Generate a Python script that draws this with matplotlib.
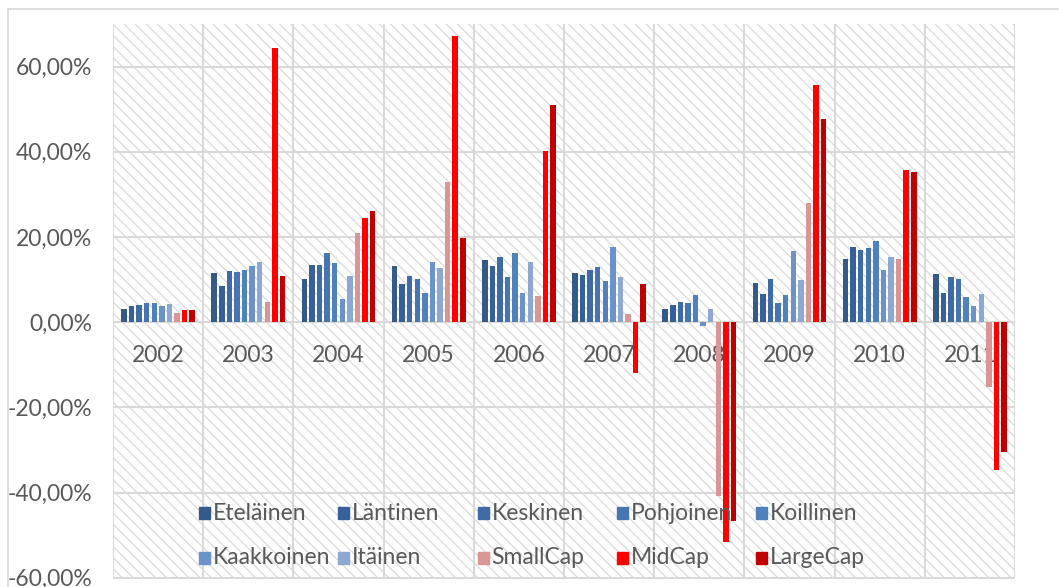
import matplotlib
matplotlib.use('Agg')
import matplotlib.pyplot as plt
from matplotlib.patches import Rectangle
from matplotlib.lines import Line2D
import numpy as np

years = ['2002', '2003', '2004', '2005', '2006', '2007', '2008', '2009', '2010', '2011']
series = ['Eteläinen', 'Läntinen', 'Keskinen', 'Pohjoinen', 'Koillinen',
          'Kaakkoinen', 'Itäinen', 'SmallCap', 'MidCap', 'LargeCap']

etelainen = [3.0, 11.6, 10.2, 13.1, 14.5, 11.5, 3.0, 9.1, 14.9, 11.3]
lantinen = [3.8, 8.6, 13.5, 9.0, 13.2, 11.0, 4.1, 6.6, 17.7, 6.9]
keskinen = [4.0, 11.9, 13.5, 10.8, 15.4, 12.2, 4.8, 10.1, 17.0, 10.7]
pohjoinen = [4.5, 11.7, 16.3, 10.2, 10.6, 12.9, 4.5, 4.5, 17.3, 10.1]
koillinen = [4.5, 12.2, 13.8, 6.8, 16.2, 9.7, 6.3, 6.3, 19.0, 6.0]
kaakkoinen = [3.8, 13.2, 5.5, 14.1, 6.8, 17.6, -0.8, 16.8, 12.3, 3.7]
itainen = [4.2, 14.1, 10.8, 12.7, 14.1, 10.6, 3.1, 9.8, 15.4, 6.7]
smallcap = [2.2, 4.7, 20.9, 32.9, 6.2, 2.0, -40.9, 27.9, 14.8, -15.2]
midcap = [2.8, 64.4, 24.4, 67.2, 40.1, -11.9, -51.7, 55.6, 35.8, -34.7]
largecap = [2.8, 10.8, 26.0, 19.7, 50.9, 9.0, -46.6, 47.8, 35.2, -30.5]

values = [etelainen, lantinen, keskinen, pohjoinen, koillinen,
          kaakkoinen, itainen, smallcap, midcap, largecap]
colors = ['#335A88', '#37609A', '#3E6BA6', '#4775B2', '#4F81BD',
          '#6B93C9', '#8DA8D3', '#DA9694', '#FF0000', '#C00000']

W, H = 1059, 587
FS = 16.5
fig = plt.figure(figsize=(W / 100, H / 100), dpi=100)
plt.rcParams['hatch.color'] = '#DADADA'
plt.rcParams['hatch.linewidth'] = 0.9

# outer chart frame
fig.add_artist(Line2D([8 / W, 8 / W], [0, 1 - 9 / H], color='#D9D9D9', lw=1.2))
fig.add_artist(Line2D([8 / W, 1.0], [1 - 9 / H, 1 - 9 / H], color='#D9D9D9', lw=1.2))

left, right, top, bottom = 113, 1015, 24, 579
ax = fig.add_axes([left / W, (H - bottom) / H, (right - left) / W, (bottom - top) / H])
ax.patch.set_facecolor('white')
ax.patch.set_edgecolor('#DADADA')
ax.patch.set_hatch('\\\\\\')
ax.patch.set_linewidth(0)

x = np.arange(len(years))
group = 0.84
slot = group / len(series)
for i, (name, vals, c) in enumerate(zip(series, values, colors)):
    ax.bar(x - group / 2 + slot * (i + 0.5), vals, width=slot * 0.72, color=c, label=name, zorder=3)

ax.set_xlim(-0.5, len(years) - 0.5)
ax.set_ylim(-60.3, 70)
ax.set_yticks([-60, -40, -20, 0, 20, 40, 60])
ax.set_yticklabels(['%d,00%%' % v for v in [-60, -40, -20, 0, 20, 40, 60]],
                   fontsize=FS, color='#595959', family='Lato')
ax.tick_params(axis='y', length=0, pad=15)
ax.set_xticks([])
for b in np.arange(-0.5, len(years), 1.0):
    ax.axvline(b, color='#D9D9D9', lw=1.5, zorder=1)
for t in [-60, -40, -20, 0, 20, 40, 60]:
    ax.axhline(t, color='#D9D9D9', lw=1.5, zorder=1)
for s in ax.spines.values():
    s.set_visible(False)

# year labels just below zero line
for xi, y in zip(x, years):
    ax.text(xi, -7.8, y, ha='center', va='center', fontsize=FS, color='#595959',
            family='Lato', zorder=2)

# legend in two rows of five
for i, (name, c) in enumerate(zip(series, colors)):
    row, col = divmod(i, 5)
    px = 199 + 139.3 * col
    py = 513 + 45 * row
    fig.add_artist(Rectangle((px / W, 1 - (py + 6) / H), 11 / W, 12 / H,
                             transform=fig.transFigure, color=c))
    fig.text((px + 14) / W, 1 - py / H, name, ha='left', va='center',
             fontsize=FS, color='#595959', family='Lato')

fig.savefig('out.png', dpi=100)
